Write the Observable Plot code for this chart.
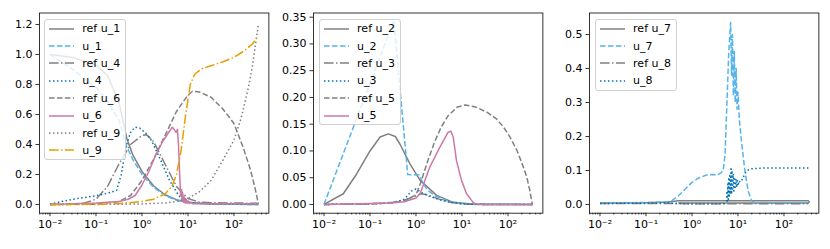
<!DOCTYPE html>
<html><head><meta charset="utf-8">
<script src="https://cdn.jsdelivr.net/npm/d3@7"></script>
<script src="https://cdn.jsdelivr.net/npm/@observablehq/plot@0.6"></script>
<style>
html,body{margin:0;padding:0;background:#fff;}
#wrap{position:relative;width:830px;height:249px;overflow:hidden;font-family:"DejaVu Sans",sans-serif;}
.panel{position:absolute;top:0;}
.legend{position:absolute;background:rgba(255,255,255,0.8);border:1px solid #d0d0d0;border-radius:3px;padding:0 5px 0 4px;font-size:11px;color:#000;box-sizing:border-box;}
.row{display:flex;align-items:center;height:17.4px;white-space:nowrap;}
.row svg{margin-right:8px;flex:none;}
</style></head><body><div id="wrap"></div>
<script>
// x values are given as log10(x) exponents; y values
// ---- panel 1 ----
const refU1 = [[-2,1.0],[-1.5,0.98],[-1,0.93],[-0.75,0.86],[-0.5,0.68],[-0.33,0.44],[-0.2,0.33],[0,0.22],[0.25,0.125],[0.5,0.065],[0.75,0.032],[1,0.015],[1.5,0.004],[2,0.001],[2.53,0]];
const u1 = [[-2,1.0],[-1.5,0.9],[-1,0.78],[-0.75,0.69],[-0.5,0.56],[-0.35,0.40],[-0.2,0.30],[0,0.2],[0.25,0.115],[0.5,0.06],[0.75,0.028],[1,0.012],[1.5,0.003],[2,0.001],[2.53,0]];
const refU4 = [[-2,0],[-1.5,0.003],[-1.25,0.01],[-1,0.035],[-0.75,0.12],[-0.5,0.27],[-0.25,0.40],[0,0.46],[0.1,0.465],[0.25,0.42],[0.5,0.27],[0.75,0.12],[1,0.04],[1.25,0.015],[1.5,0.012],[2,0.01],[2.53,0.008]];
const u4 = [[-2,0.003],[-1.5,0.035],[-1,0.058],[-0.75,0.075],[-0.55,0.095],[-0.45,0.2],[-0.35,0.38],[-0.25,0.48],[-0.15,0.515],[-0.05,0.51],[0.1,0.47],[0.2,0.43],[0.4,0.3],[0.6,0.16],[0.8,0.06],[0.9,0.03],[1.0,0.015],[1.25,0.005],[2,0.002],[2.53,0.002]];
const refU6 = [[-2,0],[-1,0.002],[-0.5,0.02],[-0.25,0.06],[0,0.16],[0.25,0.3],[0.5,0.46],[0.75,0.62],[1,0.73],[1.1,0.755],[1.25,0.75],[1.5,0.715],[1.75,0.64],[2,0.54],[2.2,0.38],[2.35,0.24],[2.45,0.12],[2.53,0.005]];
const u6 = [[-2,0],[-1.5,0.005],[-1,0.01],[-0.5,0.02],[-0.3,0.035],[-0.15,0.06],[0,0.13],[0.15,0.22],[0.3,0.33],[0.45,0.42],[0.6,0.49],[0.66,0.515],[0.7,0.5],[0.74,0.48],[0.77,0.5],[0.79,0.42],[0.82,0.2],[0.84,0.06],[0.86,0.1],[0.87,0.02],[0.89,0.07],[0.9,0.015],[0.92,0.05],[0.94,0.01],[0.96,0.035],[0.98,0.008],[1.0,0.025],[1.03,0.006],[1.06,0.015],[1.1,0.005],[1.5,0.005],[2,0.005],[2.53,0.004]];
const refU9 = [[-2,0],[-1,0],[0,0.004],[0.5,0.01],[0.75,0.02],[1,0.04],[1.25,0.085],[1.5,0.16],[1.75,0.29],[2,0.43],[2.15,0.57],[2.3,0.76],[2.4,0.92],[2.53,1.2]];
const u9 = [[-2,0],[-1,0.002],[-0.5,0.006],[0,0.02],[0.25,0.035],[0.5,0.07],[0.65,0.12],[0.75,0.2],[0.85,0.36],[0.95,0.6],[1.05,0.8],[1.15,0.87],[1.3,0.905],[1.5,0.925],[1.75,0.95],[2,0.98],[2.25,1.03],[2.4,1.07],[2.53,1.125]];
// ---- panel 2 ----
const refU2 = [[-2,0],[-1.58,0.02],[-1.29,0.057],[-1,0.1],[-0.78,0.126],[-0.6,0.132],[-0.45,0.127],[-0.35,0.113],[-0.13,0.076],[0.09,0.045],[0.45,0.017],[0.81,0.004],[1.2,0.001],[2.53,0]];
const u2 = [[-2,0],[-0.48,0.344],[-0.18,0.056],[0.07,0.055],[0.15,0.04],[0.25,0.027],[0.4,0.017],[0.6,0.009],[0.8,0.004],[1.0,0.002],[1.3,0],[2.53,0]];
const refU3 = [[-2,0],[-1,0.001],[-0.5,0.004],[-0.25,0.008],[0,0.016],[0.1,0.02],[0.25,0.018],[0.5,0.01],[0.75,0.004],[1,0.001],[1.5,0],[2.53,0]];
const u3 = [[-2,0],[-1,0.001],[-0.5,0.003],[-0.25,0.01],[-0.1,0.025],[0,0.029],[0.12,0.022],[0.3,0.015],[0.5,0.009],[0.75,0.004],[1,0.001],[1.5,0],[2.53,0]];
const refU5 = [[-2,0],[-1,0.001],[-0.5,0.003],[-0.25,0.007],[0,0.018],[0.1,0.04],[0.25,0.08],[0.4,0.116],[0.55,0.145],[0.7,0.166],[0.9,0.182],[1.07,0.186],[1.3,0.182],[1.55,0.172],[1.75,0.16],[1.9,0.145],[2.05,0.125],[2.2,0.1],[2.3,0.078],[2.41,0.051],[2.47,0.028],[2.53,0]];
const u5 = [[-2,0],[-1,0.002],[-0.5,0.003],[-0.25,0.005],[0,0.012],[0.09,0.02],[0.3,0.07],[0.52,0.107],[0.7,0.135],[0.76,0.137],[0.81,0.126],[0.88,0.082],[0.99,0.045],[1.1,0.02],[1.25,0.003],[1.35,0],[2.53,0]];
// ---- panel 3 ----
const refU7 = [[-2,0.004],[-1,0.005],[-0.5,0.007],[-0.3,0.011],[1,0.011],[2.53,0.011],[2.55,0.008],[2.53,0.004],[1,0.004],[-0.3,0.004]];
const u7 = [[-2,0.005],[-1.5,0.005],[-1,0.006],[-0.6,0.007],[-0.45,0.01],[-0.3,0.025],[-0.15,0.045],[0,0.065],[0.15,0.078],[0.3,0.086],[0.45,0.088],[0.55,0.087],[0.62,0.092],[0.68,0.1],[0.72,0.15],[0.76,0.3],[0.8,0.45],[0.84,0.535],[0.86,0.38],[0.88,0.5],[0.9,0.32],[0.92,0.45],[0.94,0.3],[0.96,0.4],[0.98,0.28],[1.0,0.33],[1.03,0.25],[1.08,0.18],[1.15,0.1],[1.22,0.04],[1.3,0.01],[1.4,0.004],[2,0.004],[2.53,0.004]];
const refU8 = [[-2,0.003],[-1,0.003],[-0.5,0.003],[0,0.002],[1,0.002],[2,0.002],[2.53,0.002]];
const u8 = [[-2,0.003],[-1,0.004],[-0.5,0.005],[-0.4,0.003],[0,0.002],[0.5,0.002],[0.7,0.003],[0.75,0.01],[0.76,0.04],[0.77,0.005],[0.78,0.06],[0.79,0.01],[0.8,0.08],[0.81,0.02],[0.82,0.09],[0.83,0.03],[0.85,0.11],[0.86,0.03],[0.87,0.1],[0.88,0.04],[0.9,0.09],[0.91,0.04],[0.93,0.08],[0.94,0.05],[0.96,0.075],[0.97,0.05],[0.99,0.07],[1.0,0.055],[1.02,0.07],[1.05,0.065],[1.1,0.075],[1.15,0.09],[1.2,0.1],[1.3,0.105],[1.5,0.107],[2,0.107],[2.53,0.107]];

const xMajor = [0.01, 0.1, 1, 10, 100];
const xMajorLabels = ["10\u207B\u00B2", "10\u207B\u00B9", "10\u2070", "10\u00B9", "10\u00B2"];
const yTicks1 = [0, 0.2, 0.4, 0.6, 0.8, 1.0, 1.2];
const yTicks2 = [0, 0.05, 0.1, 0.15, 0.2, 0.25, 0.3, 0.35];
const yTicks3 = [0, 0.1, 0.2, 0.3, 0.4, 0.5];

const GRAY = "#808080", SKY = "#56B4E9", BLUE = "#0072B2", PINK = "#CC79A7", ORANGE = "#E69F00";
const SOLID = null, DASH = "5.55,2.4", DASHDOT = "9.6,2.4,1.5,2.4", DOT = "1.5,2.475";

const panels = [
  {frameLeft: 38.5, yDomain: [-0.058, 1.2765], yTicks: yTicks1, yFmt: d3.format(".1f"), series: [
    {label: "ref u_1", data: refU1, color: GRAY, dash: SOLID},
    {label: "u_1", data: u1, color: SKY, dash: DASH},
    {label: "ref u_4", data: refU4, color: GRAY, dash: DASHDOT},
    {label: "u_4", data: u4, color: BLUE, dash: DOT},
    {label: "ref u_6", data: refU6, color: GRAY, dash: DASH},
    {label: "u_6", data: u6, color: PINK, dash: SOLID},
    {label: "ref u_9", data: refU9, color: GRAY, dash: DOT},
    {label: "u_9", data: u9, color: ORANGE, dash: DASHDOT}]},
  {frameLeft: 313.3, yDomain: [-0.0163, 0.3578], yTicks: yTicks2, yFmt: d3.format(".2f"), series: [
    {label: "ref u_2", data: refU2, color: GRAY, dash: SOLID},
    {label: "u_2", data: u2, color: SKY, dash: DASH},
    {label: "ref u_3", data: refU3, color: GRAY, dash: DASHDOT},
    {label: "u_3", data: u3, color: BLUE, dash: DOT},
    {label: "ref u_5", data: refU5, color: GRAY, dash: DASH},
    {label: "u_5", data: u5, color: PINK, dash: SOLID}]},
  {frameLeft: 589.3, yDomain: [-0.0256, 0.5633], yTicks: yTicks3, yFmt: d3.format(".1f"), series: [
    {label: "ref u_7", data: refU7, color: GRAY, dash: SOLID},
    {label: "u_7", data: u7, color: SKY, dash: DASH},
    {label: "ref u_8", data: refU8, color: GRAY, dash: DASHDOT},
    {label: "u_8", data: u8, color: BLUE, dash: DOT}]}
];

const FW = 229.4, ML = 38, MR = 4, MT = 12.5, MB = 36.3;
const xDomain = [Math.pow(10, -2.228), Math.pow(10, -2.228 + FW / 46)];
const minors = [];
for (let e = -3; e <= 2; e++) for (let k = 2; k <= 9; k++) {
  const v = k * Math.pow(10, e);
  if (v > xDomain[0] && v < xDomain[1]) minors.push(v);
}
const wrap = document.getElementById("wrap");

for (const p of panels) {
  const chart = Plot.plot({
    width: FW + ML + MR, height: 249,
    marginLeft: ML, marginRight: MR, marginTop: MT, marginBottom: MB,
    style: {fontFamily: "DejaVu Sans", fontSize: "11px", background: "transparent", color: "black", overflow: "visible"},
    x: {type: "log", domain: xDomain},
    y: {domain: p.yDomain},
    marks: [
      ...p.series.map(s => Plot.line(s.data, {
        x: d => Math.pow(10, d[0]), y: d => d[1], stroke: s.color, strokeWidth: 1.5,
        strokeDasharray: s.dash, strokeLinecap: "butt", strokeLinejoin: "round", clip: true
      })),
      Plot.axisX({ticks: minors, tickFormat: () => "", tickSize: 2, strokeWidth: 0.6, label: null}),
      Plot.axisX({ticks: xMajor, tickFormat: d => xMajorLabels[xMajor.indexOf(d)], tickSize: 3.5, tickPadding: 3.5, strokeWidth: 0.8, label: null}),
      Plot.axisY({ticks: p.yTicks, tickFormat: p.yFmt, tickSize: 3.5, tickPadding: 3.5, strokeWidth: 0.8, label: null}),
      Plot.frame({stroke: "black", strokeWidth: 0.8})
    ]
  });
  const div = document.createElement("div");
  div.className = "panel";
  div.style.left = (p.frameLeft - ML) + "px";
  div.appendChild(chart);
  wrap.appendChild(div);

  const lg = document.createElement("div");
  lg.className = "legend";
  lg.style.left = (p.frameLeft + 5.8) + "px";
  lg.style.top = (MT + 6.5) + "px";
  for (const s of p.series) {
    const row = document.createElement("div");
    row.className = "row";
    const ns = "http://www.w3.org/2000/svg";
    const sw = document.createElementNS(ns, "svg");
    sw.setAttribute("width", 25); sw.setAttribute("height", 8);
    const ln = document.createElementNS(ns, "line");
    ln.setAttribute("x1", 0); ln.setAttribute("x2", 25); ln.setAttribute("y1", 4); ln.setAttribute("y2", 4);
    ln.setAttribute("stroke", s.color); ln.setAttribute("stroke-width", 1.5);
    if (s.dash) ln.setAttribute("stroke-dasharray", s.dash);
    sw.appendChild(ln);
    row.appendChild(sw);
    const t = document.createElement("span");
    t.textContent = s.label;
    row.appendChild(t);
    lg.appendChild(row);
  }
  wrap.appendChild(lg);
}
</script>
</body></html>
